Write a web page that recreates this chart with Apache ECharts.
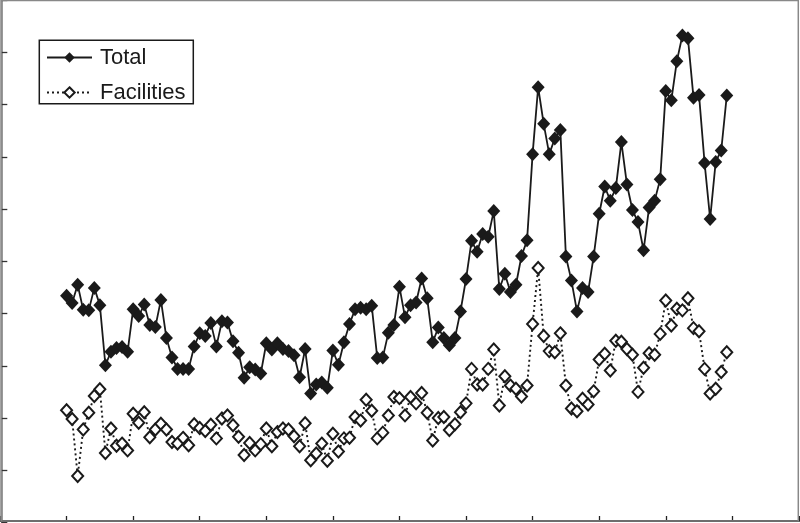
<!DOCTYPE html>
<html>
<head>
<meta charset="utf-8">
<script src="https://cdn.jsdelivr.net/npm/echarts@6/dist/echarts.min.js"></script>
<style>
html,body{margin:0;padding:0;background:#fff;}
#chart{width:800px;height:523px;}
</style>
</head>
<body>
<div id="chart"></div>
<script>
// Monthly series, 10 years (first point at month 12 of the x axis)
const firstMonth = 12;
const seriesNames = ['Total', 'Facilities'];
const total = [
4.34,4.20,4.55,4.07,4.06,4.49,4.16,3.01,3.27,3.34,3.36,3.27,
4.08,3.95,4.17,3.78,3.74,4.26,3.53,3.16,2.94,2.94,2.94,3.37,
3.62,3.57,3.82,3.37,3.85,3.83,3.47,3.25,2.77,2.97,2.93,2.85,
3.43,3.31,3.43,3.32,3.28,3.20,2.78,3.32,2.47,2.64,2.68,2.58,
3.29,3.02,3.45,3.80,4.08,4.11,4.08,4.15,3.15,3.16,3.63,3.78,
4.51,3.93,4.16,4.21,4.67,4.29,3.45,3.73,3.53,3.39,3.53,4.04,
4.66,5.39,5.18,5.52,5.47,5.96,4.47,4.76,4.41,4.55,5.10,5.40,
7.05,8.33,7.63,7.05,7.35,7.51,5.09,4.63,4.04,4.49,4.41,5.09,
5.91,6.43,6.16,6.40,7.28,6.47,5.98,5.75,5.21,6.03,6.16,6.57,
8.26,8.08,8.83,9.32,9.27,8.13,8.18,6.88,5.81,6.90,7.12,8.17
];
const facilities = [
2.15,1.98,0.89,1.78,2.10,2.42,2.55,1.33,1.80,1.47,1.51,1.38,
2.08,1.91,2.11,1.63,1.78,1.89,1.78,1.54,1.51,1.62,1.48,1.88,
1.81,1.75,1.87,1.61,1.99,2.05,1.86,1.64,1.29,1.52,1.38,1.50,
1.80,1.46,1.73,1.80,1.78,1.65,1.46,1.90,1.19,1.32,1.51,1.18,
1.70,1.36,1.61,1.62,2.02,1.95,2.35,2.14,1.61,1.72,2.05,2.40,
2.38,2.05,2.40,2.28,2.48,2.10,1.57,2.00,2.02,1.77,1.88,2.11,
2.28,2.94,2.64,2.64,2.94,3.31,2.24,2.80,2.62,2.56,2.41,2.62,
3.80,4.87,3.57,3.28,3.26,3.62,2.62,2.18,2.13,2.37,2.26,2.51,
3.12,3.23,2.91,3.48,3.46,3.32,3.21,2.50,2.96,3.24,3.21,3.61,
4.25,3.77,4.09,4.06,4.29,3.72,3.66,2.94,2.47,2.56,2.88,3.26
];

const toPairs = arr => arr.map((v, i) => [firstMonth + i, v]);
const ink = '#1a1a1a';

const chart = echarts.init(document.getElementById('chart'), null, {renderer: 'canvas'});
chart.setOption({
  animation: false,
  backgroundColor: '#fff',
  grid: {left: -0.3, top: -1.4, width: 799.2, height: 523.9, containLabel: false},
  xAxis: {
    type: 'value', min: 0, max: 144, interval: 12, offset: -1.5,
    axisLine: {show: true, lineStyle: {color: '#222', width: 2.2}},
    axisTick: {show: true, inside: true, length: 5, lineStyle: {color: '#222', width: 1.3}},
    axisLabel: {show: false},
    splitLine: {show: false}
  },
  yAxis: {
    type: 'value', min: 0, max: 10, interval: 1, offset: -1.3,
    axisLine: {show: true, lineStyle: {color: '#777', width: 1.5}},
    axisTick: {show: true, inside: true, length: 6, lineStyle: {color: '#333', width: 1.3}},
    axisLabel: {show: false},
    splitLine: {show: false}
  },
  legend: {
    orient: 'vertical', left: 46, top: 46.5, padding: 0,
    itemWidth: 45, itemHeight: 13, itemGap: 13,
    data: seriesNames,
    textStyle: {fontFamily: "'Liberation Sans', Arial, Helvetica, sans-serif", fontSize: 22, lineHeight: 22, color: ink, padding: [0, 0, 0, 3]}
  },
  graphic: [
    {type: 'rect', z: 100, silent: true,
     shape: {x: 1, y: 0.5, width: 797.3, height: 520.5},
     style: {fill: 'none', stroke: '#888', lineWidth: 1.5}},
    {type: 'rect', z: 100, silent: true,
     shape: {x: 39.3, y: 40.3, width: 154, height: 63.4},
     style: {fill: 'none', stroke: ink, lineWidth: 1.5}}
  ],
  series: [
    {
      name: seriesNames[0], type: 'line', data: toPairs(total),
      symbol: 'diamond', symbolSize: [13, 14], showAllSymbol: true,
      itemStyle: {color: ink, borderColor: ink, borderWidth: 0},
      lineStyle: {color: ink, width: 1.8, type: 'solid'},
      z: 3
    },
    {
      name: seriesNames[1], type: 'line', data: toPairs(facilities),
      symbol: 'diamond', symbolSize: [11, 12], showAllSymbol: true,
      itemStyle: {color: '#fff', borderColor: ink, borderWidth: 2},
      lineStyle: {color: ink, width: 1.9, type: [2, 3]},
      z: 2
    }
  ]
});
</script>
</body>
</html>
